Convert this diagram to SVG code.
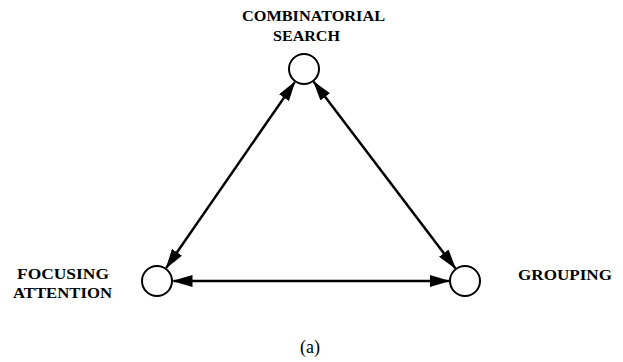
<svg xmlns="http://www.w3.org/2000/svg" width="623" height="362" viewBox="0 0 623 362">
<defs>
<style>
.lbl{font-family:"Liberation Serif","Times New Roman",serif;font-weight:bold;font-size:14px;fill:#000}
.node{fill:#fff;stroke:#000;stroke-width:2}
.edge{stroke:#000;stroke-width:2.5;fill:none;marker-start:url(#ah);marker-end:url(#ah)}
</style>
<marker id="ah" viewBox="0 0 20 12" refX="19" refY="6" markerWidth="20" markerHeight="12" markerUnits="userSpaceOnUse" orient="auto-start-reverse">
<path d="M0,0 L20,6 L0,12 z" fill="#000"/>
</marker>
</defs>
<rect width="623" height="362" fill="#fff"/>
<g id="connectors">
<line class="edge" x1="294.8" y1="82.1" x2="166.2" y2="267.9"/>
<line class="edge" x1="313.7" y1="81.7" x2="455.3" y2="268.3"/>
<line class="edge" x1="173.5" y1="281" x2="449" y2="281"/>
</g>
<g id="combinatorial-search">
<circle class="node" cx="304" cy="69" r="15"/>
<text class="lbl" x="242" y="21" textLength="143" lengthAdjust="spacingAndGlyphs">COMBINATORIAL</text>
<text class="lbl" x="273" y="41" textLength="67" lengthAdjust="spacingAndGlyphs">SEARCH</text>
</g>
<g id="focusing-attention">
<circle class="node" cx="157" cy="281" r="15"/>
<text class="lbl" x="17" y="279" textLength="92" lengthAdjust="spacingAndGlyphs">FOCUSING</text>
<text class="lbl" x="13" y="298" textLength="99" lengthAdjust="spacingAndGlyphs">ATTENTION</text>
</g>
<g id="grouping">
<circle class="node" cx="465" cy="281" r="15"/>
<text class="lbl" x="518" y="280" textLength="94" lengthAdjust="spacingAndGlyphs">GROUPING</text>
</g>
<text x="310" y="353" text-anchor="middle" style="font-family:'Liberation Serif','Times New Roman',serif;font-size:18px;fill:#000">(a)</text>
</svg>
